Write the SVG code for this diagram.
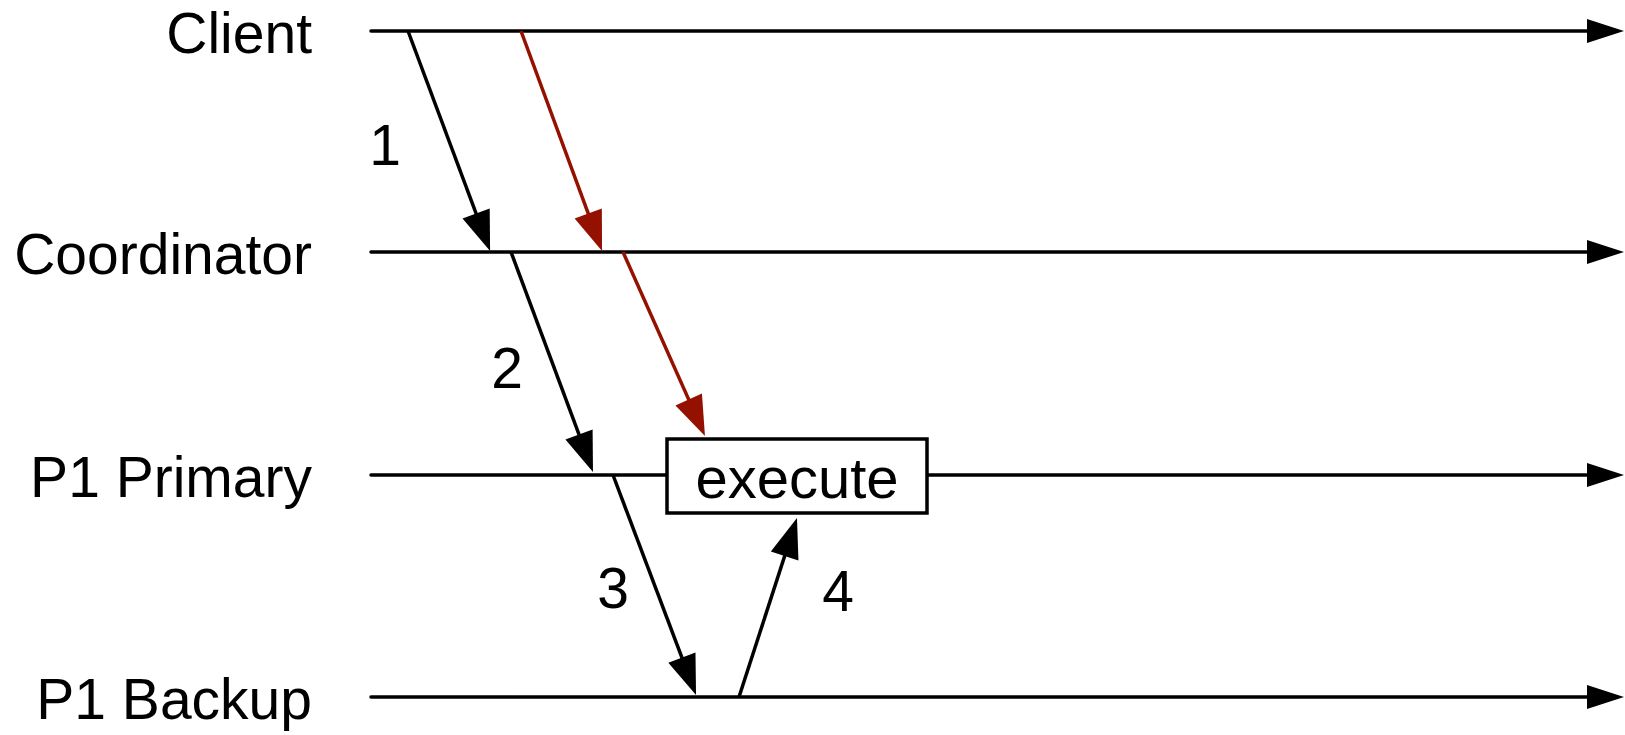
<svg xmlns="http://www.w3.org/2000/svg" width="1625" height="735" viewBox="0 0 1625 735">
<style>
text{font-family:"Liberation Sans",Arial,Helvetica,sans-serif;font-size:57px;fill:#000}
.lbl{text-anchor:end}
.num{text-anchor:middle}
.tl{stroke:#000;stroke-width:3.5;fill:none;marker-end:url(#tlhead)}
.msg{stroke:#000;stroke-width:3.5;fill:none;marker-end:url(#head)}
.red{stroke:#941100;stroke-width:3.5;fill:none;marker-end:url(#redhead)}
</style>
<defs>
<marker id="head" markerUnits="userSpaceOnUse" viewBox="-32 -15 44 30" refX="0" refY="0" markerWidth="44" markerHeight="30" orient="auto" overflow="visible">
<path d="M10,0 L-30,-14.5 L-30,14.5 Z" fill="#000"/>
</marker>
<marker id="redhead" markerUnits="userSpaceOnUse" viewBox="-32 -15 44 30" refX="0" refY="0" markerWidth="44" markerHeight="30" orient="auto" overflow="visible">
<path d="M10,0 L-30,-14.5 L-30,14.5 Z" fill="#941100"/>
</marker>
<marker id="tlhead" markerUnits="userSpaceOnUse" viewBox="-30 -13 42 26" refX="0" refY="0" markerWidth="42" markerHeight="26" orient="auto" overflow="visible">
<path d="M10,0 L-27,-12 L-27,12 Z" fill="#000"/>
</marker>
</defs>
<g id="client"><text class="lbl" x="312" y="53">Client</text></g>
<g id="coordinator"><text class="lbl" x="312" y="274">Coordinator</text></g>
<g id="p1primary"><text class="lbl" x="312" y="497">P1 Primary</text></g>
<g id="p1backup"><text class="lbl" x="312" y="719">P1 Backup</text></g>
<g id="connectors">
<line class="tl" x1="371" y1="31" x2="1614" y2="31" stroke-linecap="round"/>
<line class="tl" x1="371" y1="252" x2="1614" y2="252" stroke-linecap="round"/>
<line class="tl" x1="371" y1="475" x2="667" y2="475" stroke-linecap="round" style="marker-end:none"/>
<line class="tl" x1="927" y1="475" x2="1614" y2="475"/>
<line class="tl" x1="371" y1="697" x2="1614" y2="697" stroke-linecap="round"/>
<line class="msg" x1="408" y1="31" x2="486.6" y2="241.6"/>
<line class="red" x1="521" y1="31" x2="598.6" y2="241.6"/>
<line class="msg" x1="511" y1="252" x2="589.5" y2="462.6"/>
<line class="red" x1="623" y1="252" x2="700.9" y2="426.9"/>
<line class="msg" x1="613" y1="475" x2="692.5" y2="685.6"/>
<line class="msg" x1="739" y1="697" x2="793.9" y2="527.5"/>
</g>
<g id="execute">
<rect x="667" y="439" width="260" height="74" fill="#fff" stroke="#000" stroke-width="3.5"/>
<text class="num" x="797" y="498" style="font-size:58px">execute</text>
</g>
<g id="labels">
<text class="num" x="385" y="165">1</text>
<text class="num" x="507" y="388">2</text>
<text class="num" x="613" y="608">3</text>
<text class="num" x="838" y="611">4</text>
</g>
</svg>
